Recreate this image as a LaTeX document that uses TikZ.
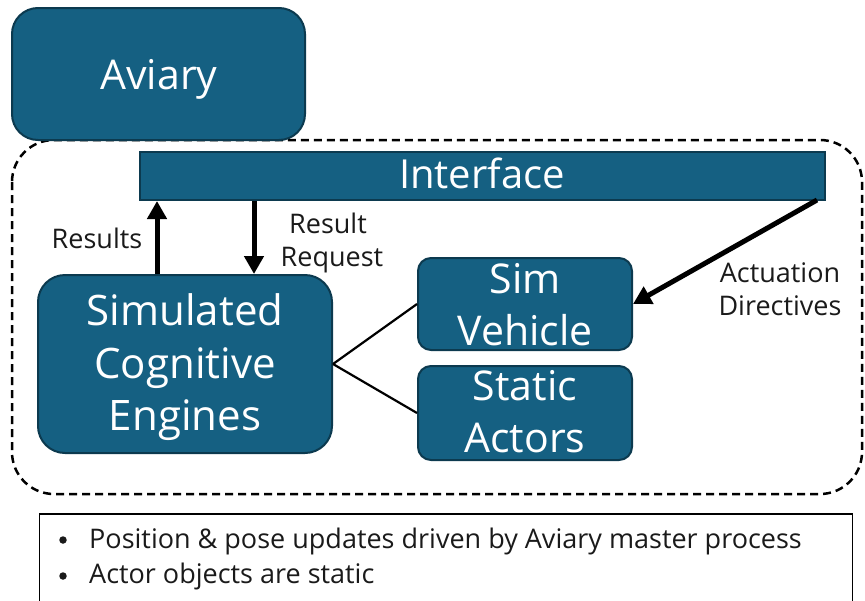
\documentclass[tikz,border=0pt]{standalone}
\usepackage{fontspec}
\setmainfont{Open Sans}
\usetikzlibrary{arrows.meta}
\definecolor{boxfill}{HTML}{156082}
\definecolor{boxline}{HTML}{0C3A4F}
\definecolor{labeltext}{HTML}{1A1A1A}
\tikzset{
  box/.style={draw=boxline, line width=2pt, fill=boxfill, inner sep=0pt},
  boxtxt/.style={text=white, anchor=base, inner sep=0pt},
  lbl/.style={text=labeltext, anchor=base, inner sep=0pt, font=\fontsize{27}{33}\selectfont},
  dot/.style={fill=labeltext, circle, inner sep=0pt, minimum size=7.5pt},
  flow/.style={line width=5pt, -{Triangle[length=18pt,width=19pt]}},
  link/.style={line width=2.2pt, black},
}
\begin{document}
\begin{tikzpicture}[x=1pt,y=-1pt]
\useasboundingbox (0,0) rectangle (865,600);
% simulation boundary
\draw[line width=2.5pt, dash pattern=on 8pt off 5pt, rounded corners=42pt]
  (12,140) rectangle (862,494);
% top-level process
\node[box, rounded corners=26pt, minimum width=293pt, minimum height=132pt]
  (aviary) at (158.5,74) {};
\node[boxtxt, font=\fontsize{41}{50}\selectfont] (aviaryT) at (159,89) {Aviary};
% interface bar
\node[box, minimum width=685pt, minimum height=48pt] (iface) at (482.5,176) {};
\node[boxtxt, font=\fontsize{40}{50}\selectfont] (ifaceT) at (482,188) {Interface};
% components
\node[box, rounded corners=27pt, minimum width=294pt, minimum height=178pt]
  (sce) at (185,364) {};
\node[boxtxt, font=\fontsize{42}{50}\selectfont] (sceA) at (185,325) {Simulated};
\node[boxtxt, font=\fontsize{42}{50}\selectfont] (sceB) at (185,378) {Cognitive};
\node[boxtxt, font=\fontsize{42}{50}\selectfont] (sceC) at (185,430) {Engines};
\node[box, rounded corners=13pt, minimum width=214pt, minimum height=92pt]
  (veh) at (525,304) {};
\node[boxtxt, font=\fontsize{41}{50}\selectfont] (vehA) at (525,293) {Sim};
\node[boxtxt, font=\fontsize{41}{50}\selectfont] (vehB) at (525,345) {Vehicle};
\node[box, rounded corners=13pt, minimum width=214pt, minimum height=94pt]
  (act) at (525,413) {};
\node[boxtxt, font=\fontsize{41}{50}\selectfont] (actA) at (525,400) {Static};
\node[boxtxt, font=\fontsize{41}{50}\selectfont] (actB) at (525,452) {Actors};
% connectors
\coordinate (resA) at (157,274);
\coordinate (resB) at (157,201);
\coordinate (reqA) at (254,201);
\coordinate (reqB) at (254,274);
\draw[flow] (resA) -- (resB);
\draw[flow] (reqA) -- (reqB);
\coordinate (actTail) at (817,200);
\draw[flow] (actTail) -- (veh.east);
\draw[link] (sce.east) -- (veh.west);
\draw[link] (sce.east) -- (act.west);
% labels
\node[lbl] (lres) at (97,248) {Results};
\node[lbl] (lreqA) at (328,233) {Result};
\node[lbl] (lreqB) at (332,266) {Request};
\node[lbl] (lactA) at (780,282) {Actuation};
\node[lbl] (lactB) at (780,315) {Directives};
% notes
\node[draw=black, line width=1.5pt, minimum width=813pt, minimum height=110pt, anchor=north west]
  (notes) at (38.5,513) {};
\node[dot] (bulA) at (63,540) {};
\node[dot] (bulB) at (63,576) {};
\node[lbl, anchor=base west] (noteA) at (89,548) {Position \& pose updates driven by Aviary master process};
\node[lbl, anchor=base west] (noteB) at (89,583) {Actor objects are static};
\end{tikzpicture}
\end{document}
